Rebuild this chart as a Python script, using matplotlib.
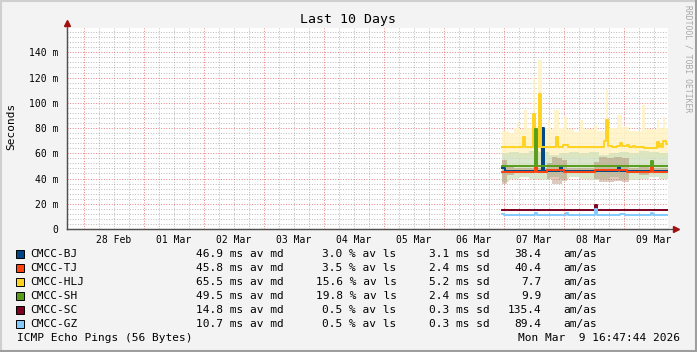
import numpy as np
import matplotlib
matplotlib.use("Agg")
import matplotlib.pyplot as plt
from matplotlib.patches import Rectangle
from matplotlib.lines import Line2D

plt.rcParams["font.family"] = "DejaVu Sans Mono"

W, H = 697, 352

# x positions: hours since 07 Mar 00:00, converted to days since 28 Feb 00:00
day_labels = ["28 Feb", "01 Mar", "02 Mar", "03 Mar", "04 Mar",
              "05 Mar", "06 Mar", "07 Mar", "08 Mar", "09 Mar"]
y_ticks = [0, 20, 40, 60, 80, 100, 120, 140]
y_tick_labels = ["0", "20 m", "40 m", "60 m", "80 m", "100 m", "120 m", "140 m"]

hosts = ["CMCC-BJ", "CMCC-TJ", "CMCC-HLJ", "CMCC-SH", "CMCC-SC", "CMCC-GZ"]
host_colors = ["#004586", "#ff420e", "#ffd320", "#579d1c", "#7e0021", "#83caff"]
med_avg = [46.9, 45.8, 65.5, 49.5, 14.8, 10.7]
loss_avg = [3.0, 3.5, 15.6, 19.8, 0.5, 0.5]
sd_avg = [3.1, 2.4, 5.2, 2.4, 0.3, 0.3]
am_as = [38.4, 40.4, 7.7, 9.9, 135.4, 89.4]

# median lines (ms), step changes
bj_t = [-0.8, 0.4, 15.0, 15.8, 22.4, 23.2, 45.6, 46.4, 65.6]
bj_v = [48, 46.3, 80, 46.3, 49, 46.3, 49, 46.3, 46.3]
tj_t = [-0.8, 12.4, 13.2, 17, 24, 36.4, 49.2, 58.8, 59.7, 65.6]
tj_v = [45.5, 49, 45.5, 46.5, 45.5, 47, 45.5, 49, 45.5, 45.5]
hlj_t = [-0.8, 7.6, 8.4, 11.6, 12.4, 14, 14.6, 20.8, 21.6, 23.6,
         25.6, 40, 40.8, 41.6, 43, 45.2, 46.4, 47.2, 49.2, 50,
         51.6, 52.4, 56, 61.2, 62, 62.4, 63.2, 63.6, 64.8, 65.6]
hlj_v = [65, 73, 65, 91, 65, 107, 65, 73, 65, 66.5,
         65, 70, 86, 66, 65, 66, 68, 66, 66.5, 65,
         66, 65, 64.5, 69, 65, 67, 65, 70, 67, 67]
sh_t = [-0.8, 12.4, 13.2, 58.8, 59.7, 65.6]
sh_v = [50, 79, 50, 54, 50, 50]
sc_t = [-0.8, 36.4, 37.0, 65.6]
sc_v = [15.3, 19, 15.3, 15.3]
gz_t = [-0.8, -0.2, 12.4, 13.0, 24.8, 25.4, 36.4, 37.0, 46.4, 48.4, 58.8, 59.6, 65.6]
gz_v = [12, 11.2, 12.3, 11.2, 12.3, 11.2, 15.5, 11.2, 12.2, 11.2, 12.7, 11.2, 11.2]

# smoke bands
hlj_s_t = [-0.8, 2, 4, 5.2, 6, 8, 9, 11.6, 12.4, 13.6,
           15, 17.6, 18.4, 20, 22, 24, 25, 28, 30.4, 31.6,
           36, 37.2, 40.8, 41.6, 45.2, 47.2, 49, 50, 55.2, 56.4,
           61, 62, 63.4, 64.4, 65.6]
hlj_s_hi = [78, 76, 80, 85, 79, 94, 80, 120, 82, 134,
            80, 86, 79, 94, 80, 89, 79, 77, 86, 79,
            82, 78, 111, 80, 90, 81, 81, 78, 98, 79,
            86, 80, 89, 80, 80]
hlj_s_lo = [57, 56, 57, 56, 57, 56, 57, 55, 56, 55,
            57, 56, 57, 56, 56, 57, 56, 57, 56, 57,
            56, 57, 55, 56, 56, 57, 56, 57, 55, 56,
            57, 56, 56, 57, 57]
sh_s_t = [-0.8, 2, 6, 10, 14, 18, 22, 26, 30, 34, 38, 42, 46, 50, 54, 58, 62, 65.6]
sh_s_hi = [60, 61, 60, 62, 61, 59, 60, 61, 60, 61, 59, 60, 61, 60, 62, 61, 60, 60]
sh_s_lo = [37, 40, 41, 40, 39, 41, 40, 41, 40, 39, 40, 41, 40, 39, 40, 41, 40, 40]
tj_s_t = [-0.8, 1.2, 4, 17, 19, 21, 23, 25, 30, 36, 38, 41, 44, 47, 50, 54, 58, 62, 65.6]
tj_s_hi = [55, 49, 48, 52, 57, 56, 55, 48, 48, 53, 57, 56, 57, 56, 48, 49, 48, 48, 48]
tj_s_lo = [36, 43, 44, 40, 36, 36, 38, 44, 44, 40, 37, 37, 38, 37, 44, 43, 44, 44, 44]


def to_day(hours):
    return 7 + np.asarray(hours) / 24.0


def px(x, y):
    return x / W, 1 - y / H


fig = plt.figure(figsize=(W / 100, H / 100), dpi=100, facecolor="#f3f3f3")
ax = fig.add_axes([67 / W, (H - 229) / H, 601 / W, 201 / H])
ax.set_facecolor("white")
ax.set_xlim(-0.283, 9.733)
ax.set_ylim(0, 159.3)

# grid
dots = (0, (1, 1.6))
for d in np.arange(0, 10, 0.25):
    if d % 1 == 0:
        ax.axvline(d, color="#e05050", alpha=0.7, lw=0.72, ls=dots, zorder=0)
    else:
        ax.axvline(d, color="#909090", alpha=0.6, lw=0.72, ls=dots, zorder=0)
for v in np.arange(4, 160, 4):
    if v % 20 == 0:
        ax.axhline(v, color="#e05050", alpha=0.7, lw=0.72, ls=dots, zorder=0)
    else:
        ax.axhline(v, color="#909090", alpha=0.6, lw=0.72, ls=dots, zorder=0)

# smoke
ax.fill_between(to_day(hlj_s_t), hlj_s_lo, hlj_s_hi, step="post",
                color="#fff3c4", alpha=0.85, lw=0, zorder=1)
ax.fill_between(to_day(sh_s_t), sh_s_lo, sh_s_hi, step="post",
                color="#cfe0bb", alpha=0.75, lw=0, zorder=1)
ax.fill_between(to_day(tj_s_t), tj_s_lo, tj_s_hi, step="post",
                color="#a67c5c", alpha=0.4, lw=0, zorder=1)

# medians
series = [(bj_t, bj_v), (tj_t, tj_v), (hlj_t, hlj_v),
          (sh_t, sh_v), (sc_t, sc_v), (gz_t, gz_v)]
for (t, v), c in zip(series, host_colors):
    ax.step(to_day(t), v, where="post", color=c, lw=1.4, zorder=3)

# axes
for s in ["top", "right"]:
    ax.spines[s].set_visible(False)
for s in ["left", "bottom"]:
    ax.spines[s].set_color("#505050")
    ax.spines[s].set_linewidth(0.9)
ax.plot([0, 1.012], [0, 0], transform=ax.transAxes, color="#505050",
        lw=0.9, clip_on=False, zorder=5)
ax.plot([0, 0], [0, 1.02], transform=ax.transAxes, color="#505050",
        lw=0.9, clip_on=False, zorder=5)
ax.plot([0], [1.025], marker="^", ms=4, color="#a01010",
        transform=ax.transAxes, clip_on=False, zorder=6)
ax.plot([1.0125], [0], marker=">", ms=4, color="#a01010",
        transform=ax.transAxes, clip_on=False, zorder=6)

ax.set_xticks(np.arange(len(day_labels)) + 0.5, day_labels)
ax.set_yticks(y_ticks, y_tick_labels)
ax.tick_params(axis="both", length=0, labelsize=7, colors="black")
ax.tick_params(axis="x", pad=4)
ax.tick_params(axis="y", pad=6)

# texts
fig.text(*px(348, 19), "Last 10 Days", ha="center", va="center", fontsize=9.5)
fig.text(*px(11, 126), "Seconds", rotation=90, ha="center", va="center", fontsize=8)
fig.text(*px(688, 5), "RRDTOOL / TOBI OETIKER", rotation=270, ha="center",
         va="top", fontsize=5.8, color="#a8a8a8")

for i, name in enumerate(hosts):
    yc = 254.3 + 13.95 * i
    fig.patches.append(Rectangle(px(15.7, yc + 4), 8 / W, 8 / H,
                                 transform=fig.transFigure, facecolor=host_colors[i],
                                 edgecolor="black", lw=0.7))
    fig.text(*px(30.7, yc), name, ha="left", va="center", fontsize=8)
    fig.text(*px(283.3, yc), f"{med_avg[i]:.1f} ms av md", ha="right", va="center", fontsize=8)
    fig.text(*px(396.7, yc), f"{loss_avg[i]:.1f} % av ls", ha="right", va="center", fontsize=8)
    fig.text(*px(490.2, yc), f"{sd_avg[i]:.1f} ms sd", ha="right", va="center", fontsize=8)
    fig.text(*px(541.3, yc), f"{am_as[i]:.1f}", ha="right", va="center", fontsize=8)
    fig.text(*px(563.6, yc), "am/as", ha="left", va="center", fontsize=8)

fig.text(*px(16.7, 338.3), "ICMP Echo Pings (56 Bytes)", ha="left", va="center", fontsize=8)
fig.text(*px(680, 338.3), "Mon Mar  9 16:47:44 2026", ha="right", va="center", fontsize=8)

# bevel border
fig.add_artist(Line2D([0, 1], [1 - 1 / H, 1 - 1 / H], color="#cfcfcf", lw=1.5))
fig.add_artist(Line2D([1 / W, 1 / W], [0, 1], color="#cfcfcf", lw=1.5))
fig.add_artist(Line2D([0, 1], [1.5 / H, 1.5 / H], color="#9e9e9e", lw=2.2))
fig.add_artist(Line2D([1 - 1.5 / W, 1 - 1.5 / W], [0, 1], color="#9e9e9e", lw=2.2))

fig.savefig("out.png", dpi=100, facecolor=fig.get_facecolor())
